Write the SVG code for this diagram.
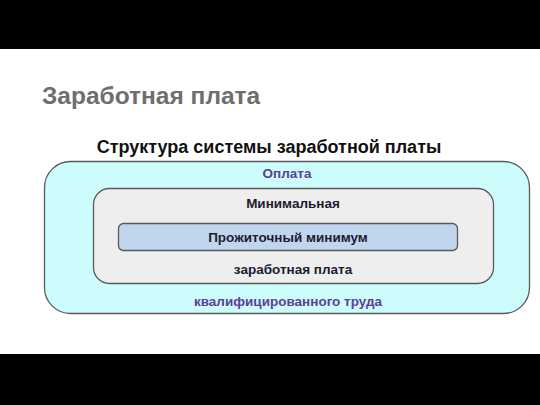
<svg xmlns="http://www.w3.org/2000/svg" width="540" height="405" viewBox="0 0 540 405">
<style>
text{font-family:"Liberation Sans",Arial,sans-serif;font-weight:bold;text-anchor:middle}
.p{fill:#5b3f9a;font-size:13.5px}
.d{fill:#1c1c2e;font-size:13.5px}
</style>
<rect width="540" height="405" fill="#fff"/>
<rect x="0" y="0" width="540" height="49" fill="#000"/>
<rect x="0" y="354" width="540" height="51" fill="#000"/>
<text x="42" y="104" style="text-anchor:start;font-size:24.5px;fill:#6e6e6e">Заработная плата</text>
<text x="269" y="153" style="font-size:18px;fill:#111">Структура системы заработной платы</text>
<g id="outer">
<rect x="44.5" y="161.5" width="485" height="152" rx="26" fill="#ccfcfc" stroke="#5a5a5a" stroke-width="1.3"/>
<text class="p" x="287" y="178">Оплата</text>
<text class="p" x="288" y="306">квалифицированного труда</text>
</g>
<g id="inner">
<rect x="93.5" y="188.5" width="400" height="95" rx="16" fill="#eeeeee" stroke="#5a5a5a" stroke-width="1.3"/>
<text class="d" x="293" y="208">Минимальная</text>
<text class="d" x="293" y="274">заработная плата</text>
</g>
<g id="core">
<rect x="118.5" y="223.5" width="339" height="27" rx="5" fill="#c0d6ee" stroke="#5a5a5a" stroke-width="1.3"/>
<text class="d" x="288" y="242">Прожиточный минимум</text>
</g>
<g id="connectors"/>
</svg>
